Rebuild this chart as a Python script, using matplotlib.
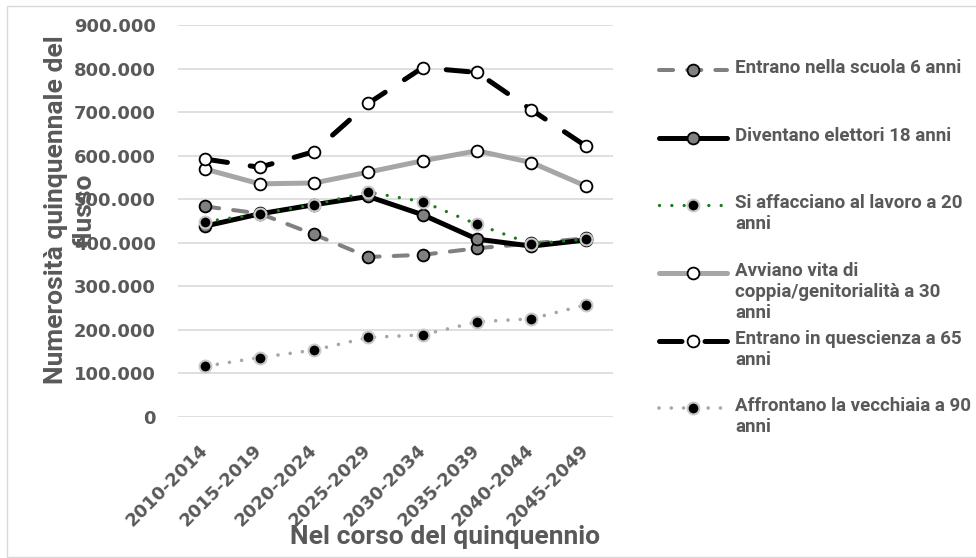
import matplotlib
matplotlib.use("Agg")
import matplotlib.pyplot as plt
from matplotlib.lines import Line2D
from matplotlib.patches import Rectangle
from matplotlib.ticker import FuncFormatter, MultipleLocator

# periods (x categories)
periodi = ["2010-2014", "2015-2019", "2020-2024", "2025-2029",
           "2030-2034", "2035-2039", "2040-2044", "2045-2049"]

# series values
scuola_6 = [483000, 467000, 419000, 367000, 372000, 387000, 398000, 410000]
elettori_18 = [438000, 466000, 487000, 506000, 464000, 408000, 392000, 406000]
lavoro_20 = [448000, 466000, 487000, 516000, 494000, 442000, 397000, 408000]
coppia_30 = [569000, 535000, 537000, 562000, 588000, 611000, 584000, 530000]
quiescenza_65 = [592000, 573000, 609000, 720000, 802000, 791000, 705000, 622000]
vecchiaia_90 = [116000, 136000, 153000, 182000, 188000, 218000, 225000, 257000]

etichette = [
    "Entrano nella scuola 6 anni",
    "Diventano elettori 18 anni",
    "Si affacciano al lavoro a 20\nanni",
    "Avviano vita di\ncoppia/genitorialità a 30\nanni",
    "Entrano in quescienza a 65\nanni",
    "Affrontano la vecchiaia a 90\nanni",
]

TXT = "#595959"
TICK_FONT = "DejaVu Sans"
TEXT_FONT = "Roboto"

# line styles per series
stili = [
    dict(color="#808080", lw=2.9, dashes=(3.5, 3.5), dash_capstyle="round",
         marker="o", ms=8.5, mfc="#808080", mec="black", mew=1.3),
    dict(color="black", lw=3.6, ls="-", solid_capstyle="round",
         marker="o", ms=8.5, mfc="#808080", mec="black", mew=1.3),
    dict(color="#1f7a1f", lw=2.4, dashes=(0.001, 3.7), dash_capstyle="round",
         marker="o", ms=8.5, mfc="black", mec="#c8c8c8", mew=1.5),
    dict(color="#a6a6a6", lw=3.6, ls="-", solid_capstyle="round",
         marker="o", ms=8.5, mfc="white", mec="black", mew=1.3),
    dict(color="black", lw=3.6, dashes=(4.5, 4.6), dash_capstyle="round",
         marker="o", ms=8.5, mfc="white", mec="black", mew=1.3),
    dict(color="#a6a6a6", lw=2.6, dashes=(0.001, 3.4), dash_capstyle="round",
         marker="o", ms=8.5, mfc="black", mec="#c8c8c8", mew=1.5),
]

serie = [scuola_6, elettori_18, lavoro_20, coppia_30, quiescenza_65, vecchiaia_90]

fig = plt.figure(figsize=(9.76, 5.58), dpi=100)
W, H = 976, 558

# outer chart border
fig.add_artist(Rectangle((7 / W, 1 - 557 / H), (985 - 7) / W, (557 - 6) / H,
                         transform=fig.transFigure, fill=False,
                         edgecolor="#d9d9d9", lw=1.0))

ax = fig.add_axes([178 / W, 1 - 416.7 / H, (613 - 178) / W, (416.7 - 25) / H])

x = list(range(len(periodi)))
for valori, st in zip(serie, stili):
    ax.plot(x, valori, **st)

ax.set_xlim(-0.5, len(periodi) - 0.5)
ax.set_ylim(0, 900000)
ax.yaxis.set_major_locator(MultipleLocator(100000))
ax.yaxis.set_major_formatter(FuncFormatter(lambda v, p: f"{int(v):,}".replace(",", ".")))
ax.set_xticks(x)
ax.set_xticklabels(periodi)
ax.grid(axis="y", color="#d9d9d9", lw=1.2)
ax.set_axisbelow(True)
for s in ax.spines.values():
    s.set_visible(False)
ax.tick_params(axis="both", length=0)
ax.tick_params(axis="y", pad=16)
ax.tick_params(axis="x", pad=22)
for lab in ax.get_yticklabels():
    lab.set_fontfamily(TICK_FONT)
    lab.set_fontweight("bold")
    lab.set_fontsize(13)
    lab.set_color(TXT)
for lab in ax.get_xticklabels():
    lab.set_fontfamily(TICK_FONT)
    lab.set_fontweight("bold")
    lab.set_fontsize(13)
    lab.set_color(TXT)
    lab.set_rotation(45)
    lab.set_ha("right")
    lab.set_va("center")
    lab.set_rotation_mode("anchor")

# axis titles
fig.text(70 / W, 1 - 210 / H, "Numerosità quinquennale del\nflusso", rotation=90,
         ha="center", va="center", fontfamily=TEXT_FONT, fontweight="bold",
         fontsize=19, color=TXT, linespacing=1.25, multialignment="center")
fig.text(445 / W, 1 - 537 / H, "Nel corso del quinquennio", ha="center", va="center",
         fontfamily=TEXT_FONT, fontweight="bold", fontsize=19, color=TXT)

# legend drawn by hand (handle aligned with the first text line, like the original)
righe_y = [70, 138, 205, 273, 341, 408]
for etichetta, st, yy in zip(etichette, stili, righe_y):
    yf = 1 - yy / H
    linea = {k: v for k, v in st.items() if k not in ("marker", "ms", "mfc", "mec", "mew")}
    fig.add_artist(Line2D([659 / W, 727 / W], [yf, yf], transform=fig.transFigure, **linea))
    fig.add_artist(Line2D([693 / W], [yf], transform=fig.transFigure, ls="none",
                          marker="o", ms=st["ms"], mfc=st["mfc"], mec=st["mec"], mew=st["mew"]))
    fig.text(735 / W, 1 - (yy - 11) / H, etichetta, ha="left", va="top",
             fontfamily=TEXT_FONT, fontweight="bold", fontsize=13.5, color=TXT,
             linespacing=1.2)

fig.savefig("out.png", dpi=100)
